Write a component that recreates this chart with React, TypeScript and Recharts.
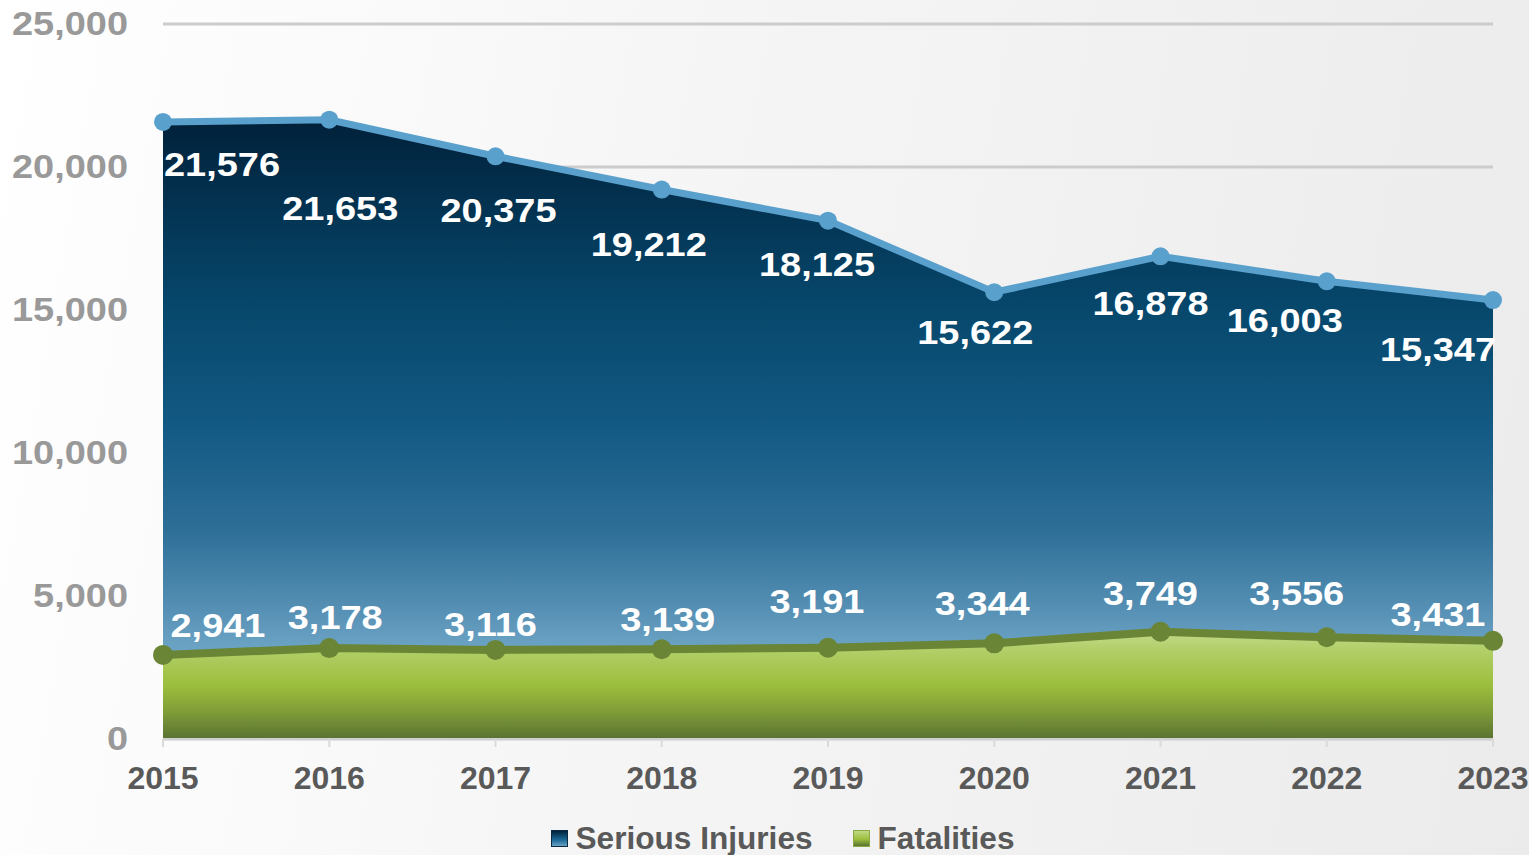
import { ComposedChart, Area, Line, XAxis, YAxis, CartesianGrid, Legend, LabelList } from "recharts";

const YEARS = ["2015", "2016", "2017", "2018", "2019", "2020", "2021", "2022", "2023"];
const SERIOUS_INJURIES = [21576, 21653, 20375, 19212, 18125, 15622, 16878, 16003, 15347];
const FATALITIES = [2941, 3178, 3116, 3139, 3191, 3344, 3749, 3556, 3431];
const Y_TICKS = [0, 5000, 10000, 15000, 20000, 25000];

// label nudges (dx, dy from the point) so the numbers sit where the original puts them
const SERIOUS_NUDGE: [number, number][] = [
  [59, 43], [11, 89], [3, 55], [-13, 55], [-11, 44], [-19, 41], [-10, 48], [-42, 40], [-55, 50],
];
const FATAL_NUDGE: [number, number][] = [
  [55, -29], [6, -30], [-5, -25], [6, -29], [-11, -46], [-12, -39], [-10, -38], [-30, -43], [-55, -26],
];

const rows = YEARS.map((year, i) => ({ year, serious: SERIOUS_INJURIES[i], fatal: FATALITIES[i] }));

const FONT = '"Liberation Sans", Arial, sans-serif';
const fmt = (v: number) => Number(v).toLocaleString("en-US");

// the original's numbers are a wide bold face, so stretch Arial-ish text sideways
function WideText({ x, y, anchor, fill, children }: any) {
  return (
    <text
      transform={`translate(${x},${y}) scale(1.15,1)`}
      textAnchor={anchor}
      dominantBaseline="central"
      fill={fill}
      fontFamily={FONT}
      fontWeight={700}
      fontSize={33}
    >
      {children}
    </text>
  );
}

function makeLabel(nudge: [number, number][]) {
  return (props: any) => {
    const x = props.x ?? props.viewBox?.x;
    const y = props.y ?? props.viewBox?.y;
    const [dx, dy] = nudge[props.index ?? 0] || [0, 0];
    return (
      <WideText x={x + dx} y={y + dy} anchor="middle" fill="#ffffff">
        {fmt(props.value)}
      </WideText>
    );
  };
}

function YTick(props: any) {
  const { x, y, payload } = props;
  return (
    <WideText x={x} y={y} anchor="end" fill="#999999">
      {fmt(payload.value)}
    </WideText>
  );
}

function LegendBox() {
  const item = (label: string, bg: string, border: string) => (
    <div style={{ display: "flex", alignItems: "center", gap: 8 }}>
      <span style={{ width: 15, height: 15, background: bg, border: `1px solid ${border}`, display: "inline-block" }} />
      <span>{label}</span>
    </div>
  );
  return (
    <div
      style={{
        display: "flex",
        justifyContent: "center",
        gap: 40,
        paddingTop: 12,
        paddingLeft: 72,
        fontFamily: FONT,
        fontWeight: 700,
        fontSize: 31.6,
        color: "#595959",
        lineHeight: "34px",
      }}
    >
      {item("Serious Injuries", "linear-gradient(#00213a, #1b6a98 60%, #6aa2c3)", "#0a2a44")}
      {item("Fatalities", "linear-gradient(#c0d884, #9cbe3c 55%, #5a7232)", "#8aa844")}
    </div>
  );
}

export default function App() {
  return (
    <div
      style={{
        position: "absolute",
        left: 0,
        top: 0,
        width: 1529,
        height: 855,
        background: "linear-gradient(100deg, #ffffff 0%, #f5f5f5 45%, #ebebeb 100%)",
      }}
    >
      <ComposedChart width={1529} height={855} data={rows} margin={{ top: 24, right: 36, left: 0, bottom: 0 }}>
        <defs>
          <linearGradient id="gradSerious" x1="0" y1="0" x2="0" y2="1">
            <stop offset="0" stopColor="#01213a" />
            <stop offset="0.29" stopColor="#06466a" />
            <stop offset="0.5" stopColor="#135a84" />
            <stop offset="0.66" stopColor="#2d6e97" />
            <stop offset="0.77" stopColor="#4f8aaf" />
            <stop offset="0.85" stopColor="#6aa2c3" />
            <stop offset="1" stopColor="#7ab0d0" />
          </linearGradient>
          <linearGradient id="gradFatal" x1="0" y1="0" x2="0" y2="1">
            <stop offset="0" stopColor="#c2d98a" />
            <stop offset="0.16" stopColor="#b3cf6a" />
            <stop offset="0.5" stopColor="#9cbe3c" />
            <stop offset="0.75" stopColor="#7f9c38" />
            <stop offset="1" stopColor="#5a7232" />
          </linearGradient>
        </defs>
        <CartesianGrid vertical={false} stroke="#cccccc" strokeWidth={3} />
        <XAxis
          dataKey="year"
          height={70}
          interval={0}
          axisLine={{ stroke: "#d0d0d0", strokeWidth: 2 }}
          tickLine={{ stroke: "#dadada", strokeWidth: 2 }}
          tickSize={8}
          tickMargin={19}
          tick={{ fill: "#595959", fontSize: 32, fontWeight: 700, fontFamily: FONT }}
        />
        <YAxis
          width={163}
          domain={[0, 25000]}
          ticks={Y_TICKS}
          axisLine={false}
          tickLine={false}
          tickSize={0}
          tickMargin={35}
          tick={<YTick />}
        />
        <Area
          type="linear"
          dataKey="serious"
          fill="url(#gradSerious)"
          fillOpacity={1}
          stroke="none"
          isAnimationActive={false}
          legendType="none"
        />
        <Area
          type="linear"
          dataKey="fatal"
          fill="url(#gradFatal)"
          fillOpacity={1}
          stroke="none"
          isAnimationActive={false}
          legendType="none"
        />
        <Line
          type="linear"
          dataKey="serious"
          name="Serious Injuries"
          stroke="#5aa0cc"
          strokeWidth={7}
          dot={{ r: 9, fill: "#5aa0cc", stroke: "none" }}
          activeDot={false}
          isAnimationActive={false}
        >
          <LabelList dataKey="serious" content={makeLabel(SERIOUS_NUDGE)} />
        </Line>
        <Line
          type="linear"
          dataKey="fatal"
          name="Fatalities"
          stroke="#6a8535"
          strokeWidth={8}
          dot={{ r: 10, fill: "#6a8535", stroke: "none" }}
          activeDot={false}
          isAnimationActive={false}
        >
          <LabelList dataKey="fatal" content={makeLabel(FATAL_NUDGE)} />
        </Line>
        <Legend verticalAlign="bottom" height={46} content={() => <LegendBox />} />
      </ComposedChart>
    </div>
  );
}
